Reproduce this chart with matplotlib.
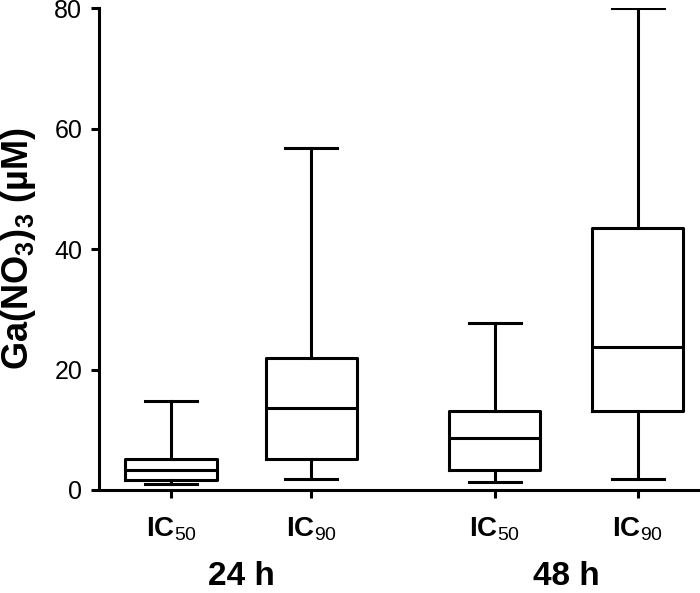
import matplotlib.pyplot as plt

plt.rcParams['font.family'] = ['Liberation Sans', 'DejaVu Sans']
plt.rcParams['mathtext.fontset'] = 'custom'
plt.rcParams['mathtext.rm'] = 'Liberation Sans'
plt.rcParams['mathtext.bf'] = 'Liberation Sans:bold'

# box statistics (uM)
labels = ['IC$_{\\mathrm{50}}$', 'IC$_{\\mathrm{90}}$', 'IC$_{\\mathrm{50}}$', 'IC$_{\\mathrm{90}}$']
groups = ['24 h', '48 h']
whislo = [1.0, 1.8, 1.4, 1.9]
q1 = [1.6, 5.1, 3.3, 13.2]
med = [3.3, 13.6, 8.6, 23.8]
q3 = [5.1, 22.0, 13.1, 43.5]
whishi = [14.8, 56.8, 27.8, 80.0]

positions = [1, 2, 3.31, 4.33]

stats = []
for i in range(len(labels)):
    stats.append({'whislo': whislo[i], 'q1': q1[i], 'med': med[i],
                  'q3': q3[i], 'whishi': whishi[i], 'fliers': []})

fig = plt.figure(figsize=(7, 5.93), dpi=100)
ax = fig.add_axes([0.1414, 0.1737, 0.856, 0.812])

lw = 2.2
ax.bxp(stats, positions=positions, widths=0.65, capwidths=0.37,
       showfliers=False,
       boxprops=dict(color='black', linewidth=lw),
       whiskerprops=dict(color='black', linewidth=lw),
       capprops=dict(color='black', linewidth=lw),
       medianprops=dict(color='black', linewidth=lw))

ax.set_xlim(0.486, 4.76)
ax.set_ylim(0, 80)
ax.set_yticks([0, 20, 40, 60, 80])
ax.set_xticks(positions)
ax.set_xticklabels(labels, fontsize=20, fontweight='bold')

for s in ['top', 'right']:
    ax.spines[s].set_visible(False)
ax.spines['left'].set_linewidth(lw)
ax.spines['bottom'].set_linewidth(lw)
ax.spines['left'].set_bounds(0, 80)
ax.tick_params(axis='y', length=6, width=lw, labelsize=18, pad=6)
ax.tick_params(axis='x', length=6, width=lw, pad=12)

ax.set_ylabel('Ga(NO$_\\mathbf{3}$)$_\\mathbf{3}$ (µM)', fontsize=26,
              fontweight='bold', labelpad=12)

for j, g in enumerate(groups):
    xc = (positions[2 * j] + positions[2 * j + 1]) / 2
    ax.text(xc, -0.18, g, transform=ax.get_xaxis_transform(),
            ha='center', va='center', fontsize=24, fontweight='bold')

fig.savefig('out.png', dpi=100)
